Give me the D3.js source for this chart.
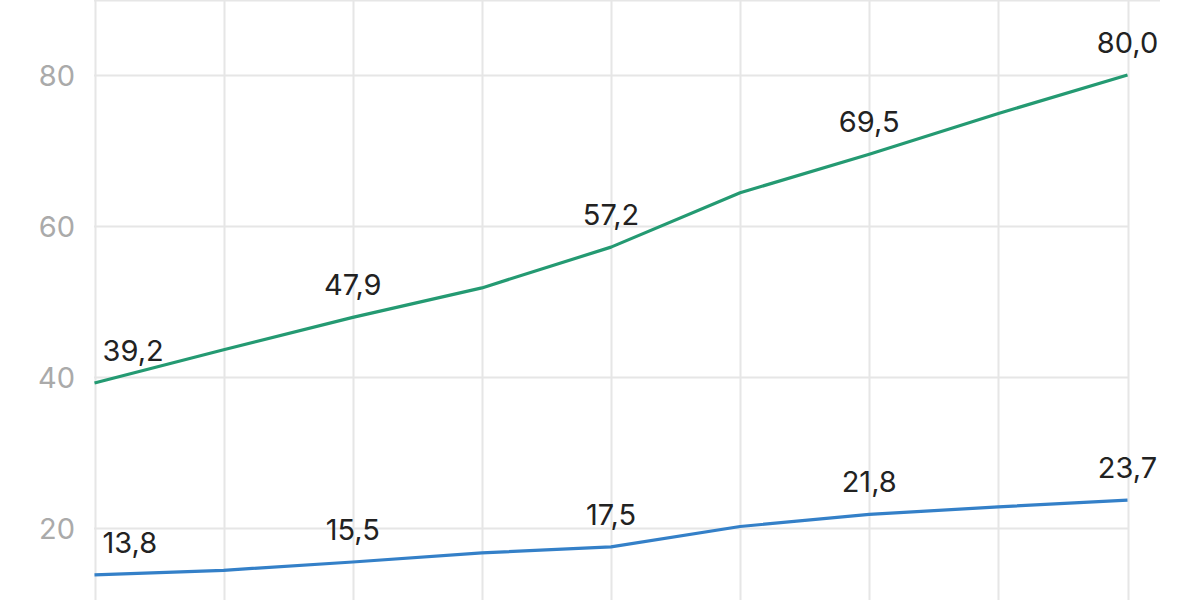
<!DOCTYPE html>
<html><head><meta charset="utf-8">
<script src="https://cdn.jsdelivr.net/npm/d3@7"></script>
<style>html,body{margin:0;padding:0;background:#fff;overflow:hidden}</style>
</head><body><svg id="c" width="1200" height="600"></svg>
<script>
const categories = ["1","2","3","4","5","6","7","8","9"];
const greenValues = [39.2, 43.6, 47.9, 51.8, 57.2, 64.4, 69.5, 74.9, 80.0];
const blueValues  = [13.8, 14.4, 15.5, 16.7, 17.5, 20.2, 21.8, 22.8, 23.7];
const greenLabels = [true,false,true,false,true,false,true,false,true];
const blueLabels  = [true,false,true,false,true,false,true,false,true];
const yTicks = [20, 40, 60, 80];

const svg = d3.select("#c");
const x = d3.scalePoint().domain(categories).range([94.5, 1127.5]);
const y = d3.scaleLinear().domain([0, 80]).range([679, 75]);

// horizontal grid
svg.append("g").selectAll("line").data(yTicks).join("line")
  .attr("x1", 94).attr("x2", 1128)
  .attr("y1", d => Math.round(y(d)) + 0.5).attr("y2", d => Math.round(y(d)) + 0.5)
  .attr("stroke", "#e6e6e6").attr("stroke-width", 2);
// top border line
svg.append("line").attr("x1", 94).attr("x2", 1160).attr("y1", 0.5).attr("y2", 0.5)
  .attr("stroke", "#e6e6e6").attr("stroke-width", 2);
// vertical grid
svg.append("g").selectAll("line").data(categories).join("line")
  .attr("x1", d => Math.round(x(d)) + 0.5).attr("x2", d => Math.round(x(d)) + 0.5)
  .attr("y1", 0).attr("y2", 600)
  .attr("stroke", "#e6e6e6").attr("stroke-width", 2);

// y axis labels
const yAxis = d3.axisLeft(y).tickValues(yTicks).tickSize(0).tickPadding(0);
const ga = svg.append("g").attr("transform", "translate(75,0)").call(yAxis);
ga.select(".domain").remove();
ga.selectAll("text").attr("fill", "#aaaaaa").attr("font-size", 29)
  .attr("font-family", "Inter, Roboto, sans-serif").attr("dy", "0.36em");

const line = d3.line().x((d, i) => x(categories[i])).y(d => y(d));
function drawSeries(vals, color, flags) {
  svg.append("path").datum(vals).attr("d", line)
    .attr("fill", "none").attr("stroke", color).attr("stroke-width", 3.2)
    .attr("stroke-linejoin", "round");
  svg.append("g").selectAll("text").data(vals.map((v, i) => ({v, i})).filter(d => flags[d.i])).join("text")
    .attr("x", d => d.i === 0 ? x(categories[0]) + 8 : x(categories[d.i]))
    .attr("y", d => y(d.v) - 22)
    .attr("text-anchor", d => d.i === 0 ? "start" : "middle")
    .attr("font-size", 29).attr("font-family", "Inter, Roboto, sans-serif")
    .attr("fill", "#222")
    .text(d => d.v.toFixed(1).replace(".", ","));
}
drawSeries(greenValues, "#249a72", greenLabels);
drawSeries(blueValues, "#3480c8", blueLabels);
</script></body></html>
